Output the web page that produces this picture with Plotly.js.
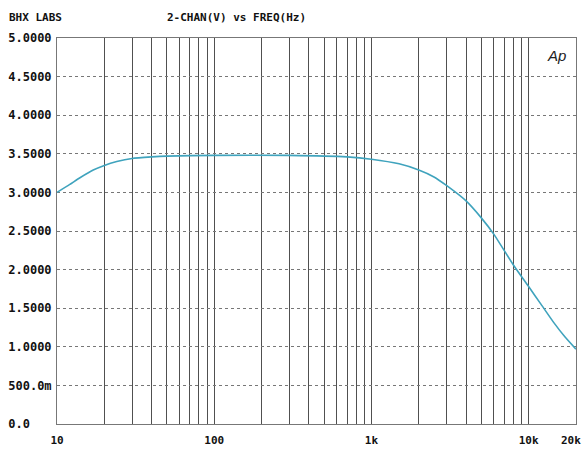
<!DOCTYPE html>
<html><head><meta charset="utf-8">
<script src="https://cdn.plot.ly/plotly-3.0.1.min.js"></script>
<style>html,body{margin:0;padding:0;background:#fff}#c{width:584px;height:450px}</style>
</head><body><div id="c"></div>
<script>
const freqHz = [10, 12, 14, 17, 20, 24, 30, 40, 50, 100, 300, 700, 1000, 1500, 2000, 2500, 3000, 4000, 5000, 6000, 8000, 10000, 12000, 14500, 17000, 20000];
const volts  = [3.00, 3.10, 3.19, 3.29, 3.35, 3.40, 3.44, 3.46, 3.47, 3.48, 3.48, 3.46, 3.43, 3.37, 3.29, 3.20, 3.09, 2.89, 2.67, 2.46, 2.06, 1.78, 1.55, 1.31, 1.13, 0.97];
const yTickVals = [0, 0.5, 1, 1.5, 2, 2.5, 3, 3.5, 4, 4.5, 5];
const yTickText = ["0.0", "500.0m", "1.0000", "1.5000", "2.0000", "2.5000", "3.0000", "3.5000", "4.0000", "4.5000", "5.0000"];
const xLabelVals = [10, 100, 1000, 10000, 20000];
const xLabelText = ["10", "100", "1k", "10k", "20k"];
const titleLeft = "BHX LABS";
const titleMid = "2-CHAN(V) vs FREQ(Hz)";

const gridVals = [];
for (let d = 10; d <= 10000; d *= 10) for (let m = 1; m <= 9; m++) { const v = d*m; if (v <= 20000) gridVals.push(v); }
gridVals.push(20000);
const lastIdx = xLabelVals.length - 1;
// last label (at the right edge) is drawn as a right-anchored annotation so it stays inside the page
const gridText = gridVals.map(v => { const i = xLabelVals.indexOf(v); return (i >= 0 && i < lastIdx) ? "<b>" + xLabelText[i] + "</b>" : ""; });
const padY = yTickText.map(t => "<b>" + t + "\u00a0".repeat(6 - t.length) + "</b>");

const mono = "DejaVu Sans Mono, monospace";
Plotly.newPlot("c", [{
  x: freqHz, y: volts, type: "scatter", mode: "lines",
  line: {color: "#3fa3bd", width: 1.6, shape: "spline", smoothing: 0.5},
  hoverinfo: "skip"
}], {
  width: 584, height: 450,
  margin: {l: 57, r: 8, t: 38, b: 26},
  paper_bgcolor: "#fff", plot_bgcolor: "#fff",
  showlegend: false,
  font: {family: mono, size: 12, color: "#111"},
  xaxis: {
    type: "log", range: [1, Math.log10(20000) + 0.0003],
    tickmode: "array", tickvals: gridVals, ticktext: gridText,
    showgrid: true, gridcolor: "#505050", gridwidth: 1,
    ticks: "", showline: true, linecolor: "#777", mirror: true, zeroline: false,
    ticklabelstandoff: 6,
    tickfont: {family: mono, size: 11, color: "#111"}
  },
  yaxis: {
    range: [0, 5], tickmode: "array", tickvals: yTickVals, ticktext: padY,
    showgrid: true, gridcolor: "#777", gridwidth: 1, griddash: "dot",
    ticks: "", showline: true, linecolor: "#777", mirror: true, zeroline: false,
    ticklabelstandoff: 2,
    tickfont: {family: mono, size: 12, color: "#111"}
  },
  annotations: [
    {text: "<b>" + xLabelText[lastIdx] + "</b>", xref: "x", yref: "paper", x: Math.log10(xLabelVals[lastIdx]), y: 0,
     xanchor: "right", yanchor: "top", xshift: 7, yshift: -8, showarrow: false,
     font: {family: mono, size: 11, color: "#111"}},
    {text: "<b>" + titleLeft + "</b>", xref: "paper", yref: "paper", x: -0.097, y: 1.054, xanchor: "left", yanchor: "middle", showarrow: false,
     font: {family: mono, size: 11, color: "#111"}},
    {text: "<b>" + titleMid + "</b>", xref: "paper", yref: "paper", x: 0.345, y: 1.054, xanchor: "center", yanchor: "middle", showarrow: false,
     font: {family: mono, size: 11, color: "#111"}},
    {text: "<i>Ap</i>", xref: "paper", yref: "paper", x: 0.985, y: 0.955, xanchor: "right", yanchor: "middle", showarrow: false,
     font: {family: "Liberation Sans, sans-serif", size: 15, color: "#222"}}
  ]
}, {staticPlot: true, displayModeBar: false});
</script></body></html>
